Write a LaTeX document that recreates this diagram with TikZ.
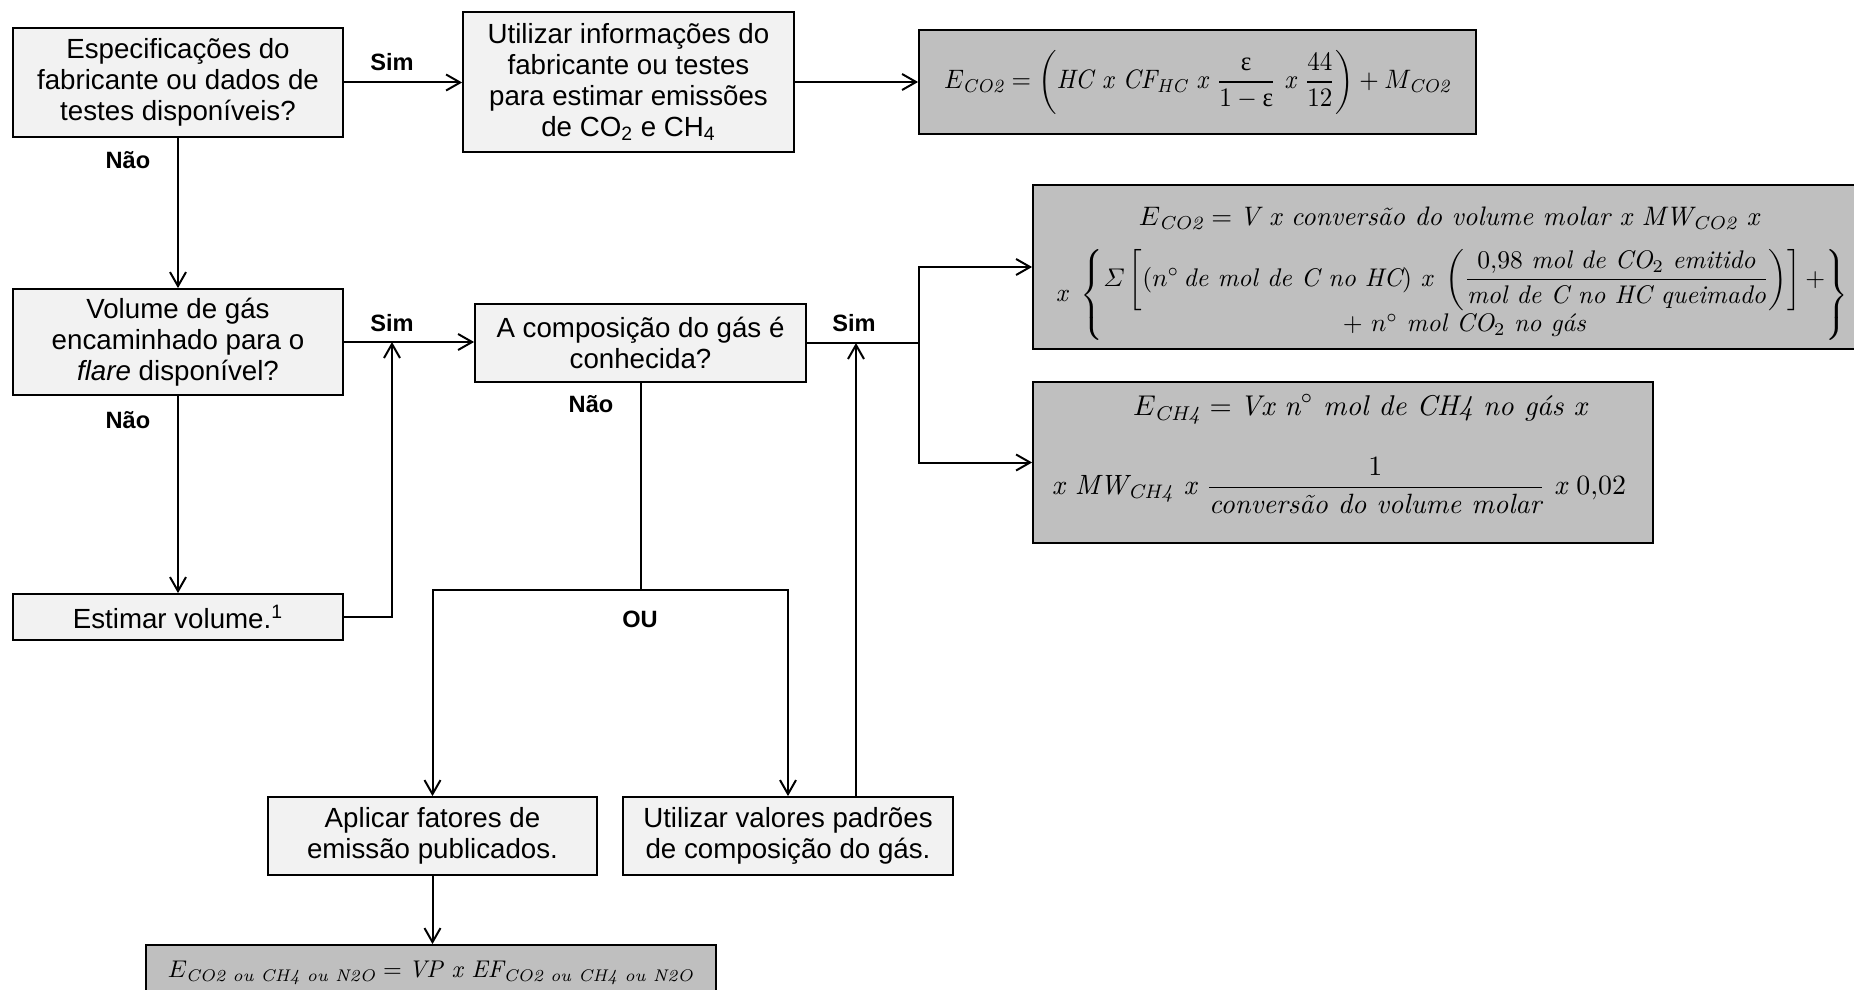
\documentclass[tikz,border=0pt]{standalone}
\usepackage{amsmath}
\usepackage{graphicx}
\usepackage{fontspec}
\newfontfamily\arial{Liberation Sans}
\newfontfamily\grk{Liberation Serif}
\usetikzlibrary{arrows.meta,calc}
\definecolor{boxfill}{HTML}{F2F2F2}
\definecolor{eqfill}{HTML}{BFBFBF}
\newcommand\boxfont{\arial\fontsize{13.85}{15.6}\selectfont}
\newcommand\lblfont{\arial\bfseries\fontsize{11.8}{14}\selectfont}
\newcommand\w[1]{\textit{#1}}
\newcommand\eps{\text{\grk ε}}
% box given by its corners in pixel units: name, x1, y1, x2, y2, style, text
\newcommand\pbox[7]{%
  \node[#6, minimum width={(#4-#2)*0.5pt}, minimum height={(#5-#3)*0.5pt}]
    (#1) at ({(#2+#4)/2},{(#3+#5)/2}) {#7};}
\tikzset{
  stepbox/.style={draw=black, fill=boxfill, line width=0.9pt, align=center,
    inner sep=0pt, font=\boxfont},
  eqbox/.style={draw=black, fill=eqfill, line width=0.9pt, align=center,
    inner sep=0pt},
  eq/.style={inner sep=0pt},
  arr/.style={line width=1pt, -{Straight Barb[length=7pt,width=8pt]}},
  con/.style={line width=1pt},
  lbl/.style={font=\lblfont, inner sep=0pt},
}
\begin{document}
\begin{tikzpicture}[x=0.5pt,y=-0.5pt]
\useasboundingbox (0,0) rectangle (1854,990);
\fill[white] (0,0) rectangle (1854,990);
\clip (0,0) rectangle (1854,990);

% decision and action boxes
\pbox{b1}{13}{28}{343}{137}{stepbox}{Especificações do\\fabricante ou dados de\\testes disponíveis?}
\pbox{ui}{463}{12}{794}{152}{stepbox}{Utilizar informações do\\fabricante ou testes\\para estimar emissões\\de CO\textsubscript{2} e CH\textsubscript{4}}
\pbox{vol}{13}{289}{343}{395}{stepbox}{Volume de gás\\encaminhado para o\\\textit{flare} disponível?}
\pbox{comp}{475}{304}{806}{382}{stepbox}{A composição do gás é\\conhecida?}
\pbox{est}{13}{594}{343}{640}{stepbox}{Estimar volume.\textsuperscript{1}}
\pbox{apl}{268}{797}{597}{875}{stepbox}{Aplicar fatores de\\emissão publicados.}
\pbox{uv}{623}{797}{953}{875}{stepbox}{Utilizar valores padrões\\de composição do gás.}

% equation boxes
\pbox{f1}{919}{30}{1476}{134}{eqbox}{\resizebox*{253.5pt}{32pt}{$\displaystyle E_{\w{CO2}} = \left(\w{HC x CF}_{\w{HC}}\ \w{x}\ \frac{\eps}{1-\eps}\ \w{x}\ \frac{44}{12}\right) + M_{\w{CO2}}$}}

\pbox{f2}{1033}{185}{1865}{349}{eqbox}{}
\node[eq] (f2a) at (1449,218) {\resizebox{310pt}{!}{$E_{\w{CO2}} = \w{V x conversão do volume molar x MW}_{\w{CO2}}\ \w{x}$}};
\node[eq] (f2b) at (1452,295) {\resizebox{396pt}{!}{$\displaystyle \w{x}\ \left\{\begin{array}{@{}c@{}}
    \varSigma\left[(n^{\circ}\,\w{de mol de C no HC})\ \w{x}\ \left(\dfrac{0{,}98\ \w{mol de CO}_2\ \w{emitido}}{\w{mol de C no HC queimado}}\right)\right] + \\[5pt]
    +\ n^{\circ}\ \w{mol CO}_2\ \w{no gás}
  \end{array}\right\}$}};

\pbox{f3}{1033}{382}{1653}{543}{eqbox}{}
\node[eq] (f3a) at (1360,409) {\resizebox{227pt}{!}{$E_{\w{CH4}} = \w{Vx n}^{\circ}\ \w{mol de CH4 no gás x}$}};
\node[eq] (f3b) at (1339,486) {\resizebox{287pt}{!}{$\displaystyle \w{x MW}_{\w{CH4}}\ \w{x}\ \frac{1}{\w{conversão do volume molar}}\ \w{x}\ 0{,}02$}};

\pbox{f4}{146}{945}{716}{1001}{eqbox}{\resizebox{263pt}{!}{$E_{\w{CO2 ou CH4 ou N2O}} = \w{VP x EF}_{\w{CO2 ou CH4 ou N2O}}$}}

% junctions
\coordinate (j1) at (392,342);
\coordinate (j2) at (919,343);
\coordinate (ou) at (comp.south |- 0,590);

% connectors
\draw[arr] (b1.east) -- (b1.east -| ui.west);
\draw[arr] (ui.east) -- (ui.east -| f1.west);
\draw[arr] (b1.south) -- (vol.north);
\draw[arr] (vol.east) -- (vol.east -| comp.west);
\draw[arr] (vol.south) -- (est.north);
\draw[arr] (est.east) -| (j1);
\draw[con] (comp.east) -- (comp.east -| j2);
\draw[arr] (j2) |- (f2.west);
\draw[arr] (j2) |- (f3.west);
\draw[arr] ([xshift=34pt]uv.north) -- ([xshift=34pt]uv.north |- comp.east);
\draw[con] (comp.south) -- (ou);
\draw[arr] (ou) -| (apl.north);
\draw[arr] (ou) -| (uv.north);
\draw[arr] (apl.south) -- (apl.south |- f4.north);

% branch labels
\node[lbl] (s1) at (392,62) {Sim};
\node[lbl] (s2) at (392,323) {Sim};
\node[lbl] (s3) at (854,323) {Sim};
\node[lbl] (n1) at (128,160) {Não};
\node[lbl] (n2) at (128,420) {Não};
\node[lbl] (n3) at (591,404) {Não};
\node[lbl] (or) at (640,619) {OU};
\end{tikzpicture}
\end{document}
